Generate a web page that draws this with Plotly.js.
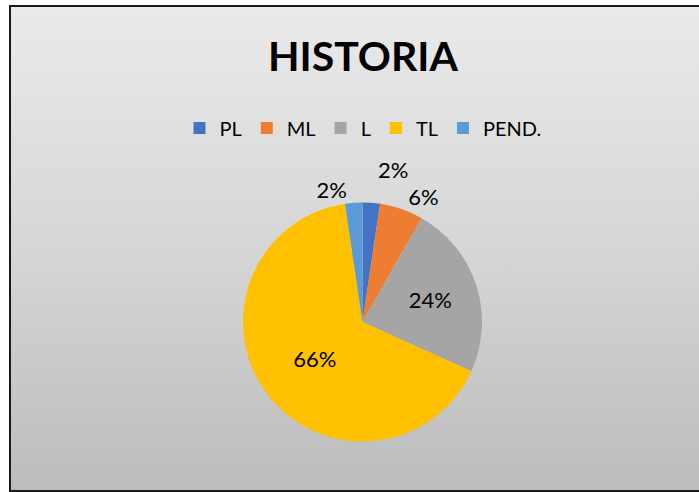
<!DOCTYPE html>
<html>
<head>
<meta charset="utf-8">
<script src="https://cdn.plot.ly/plotly-3.0.1.min.js"></script>
<style>
  html, body { margin: 0; padding: 0; background: #ffffff; }
  #frame {
    position: absolute; left: 9px; top: 5px; width: 700px; height: 483px;
    border: 2px solid #1a1a1a;
    background: linear-gradient(to bottom, #eaeaea 0%, #d6d6d6 50%, #bcbcbc 100%);
  }
  #chart { position: absolute; left: 0; top: 0; width: 699px; height: 492px; }
  #chart .textline { display: none; }
</style>
</head>
<body>
<div id="frame"></div>
<div id="chart"></div>
<script>
const categories = ["PL", "ML", "L", "TL", "PEND."];
const values = [2, 5, 20, 56, 2];
const colors = ["#4472C4", "#ED7D31", "#A5A5A5", "#FFC000", "#5B9BD5"];
const chartTitle = "HISTORIA";

const W = 699, H = 492;
const cx = 362.5, cy = 322, r = 119.5;
const FONT = "Lato, 'Open Sans', sans-serif";

const trace = {
  type: "pie",
  labels: categories,
  values: values,
  sort: false,
  direction: "clockwise",
  rotation: 0,
  marker: { colors: colors, line: { width: 0 } },
  texttemplate: "%{percent:.0%}",
  textposition: ["outside", "outside", "inside", "inside", "outside"],
  insidetextorientation: "horizontal",
  textfont: { family: FONT, size: 22, color: "#000000" },
  insidetextfont: { family: FONT, size: 22, color: "#000000" },
  outsidetextfont: { family: FONT, size: 22, color: "#000000" },
  hoverinfo: "label+percent",
  domain: { x: [(cx - r) / W, (cx + r) / W], y: [1 - (cy + r) / H, 1 - (cy - r) / H] }
};

const layout = {
  width: W, height: H,
  margin: { l: 0, r: 0, t: 0, b: 0 },
  paper_bgcolor: "rgba(0,0,0,0)",
  plot_bgcolor: "rgba(0,0,0,0)",
  title: {
    text: "<b>" + chartTitle + "</b>",
    font: { family: FONT, size: 41, color: "#000000" },
    x: 363 / W, xanchor: "center",
    y: 1 - 57 / H, yanchor: "middle"
  },
  showlegend: true,
  legend: {
    orientation: "h",
    x: 363 / W, xanchor: "center",
    y: 1 - 128 / H, yanchor: "middle",
    font: { family: FONT, size: 20, color: "#000000" },
    bgcolor: "rgba(0,0,0,0)",
    traceorder: "normal",
    itemwidth: 30
  }
};

Plotly.newPlot("chart", [trace], layout, { displayModeBar: false, staticPlot: true });
</script>
</body>
</html>
